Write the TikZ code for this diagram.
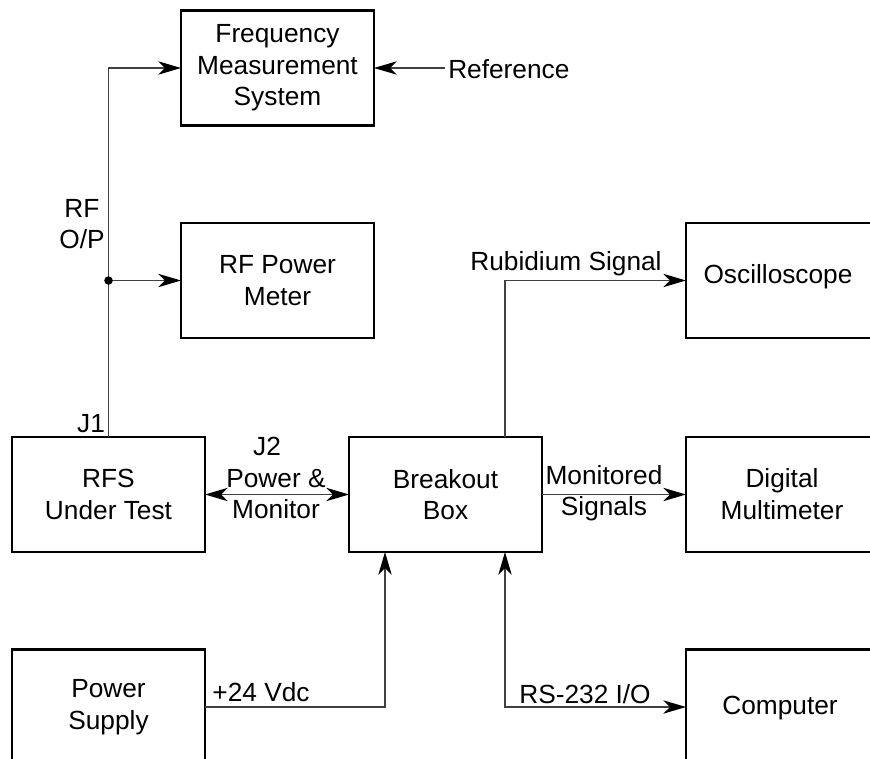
\documentclass[tikz,border=0pt]{standalone}
\usepackage{fontspec}
\setmainfont{Liberation Sans}
\usetikzlibrary{arrows.meta,calc}
\begin{document}
\begin{tikzpicture}[x=0.75pt,y=-0.75pt,
  blk/.style={draw=black,line width=1.6pt,minimum width=144.75pt,minimum height=86.25pt,inner sep=0pt,outer sep=0pt,align=center,font=\fontsize{19.7}{23.6}\selectfont},
  lbl/.style={inner sep=0pt,align=center,font=\fontsize{19.7}{23.6}\selectfont},
  conn/.style={draw=black!75,line width=0.9pt},
  tip/.tip={Stealth[length=17pt,width=10pt,inset=5pt,black]},
  arr/.style={conn,-tip},
  darr/.style={conn,tip-tip}
]
\clip (0,0) rectangle (870,759);
\fill[white] (0,0) rectangle (870,759);

% blocks
\node[blk] (fms) at (277.5,68) {Frequency\\Measurement\\System};
\node[blk] (rfpm) at (277.5,280.5) {RF Power\\Meter};
\node[blk] (rfs) at (108.5,494.5) {RFS\\Under Test};
\node[blk] (bo) at (445.5,494.5) {Breakout\\Box};
\node[blk] (osc) at (782.5,280.5) {};
\node[blk] (dmm) at (782.5,494.5) {};
\node[blk] (ps) at (108.5,707) {Power\\Supply};
\node[blk] (comp) at (782.5,707) {};

% texts of the blocks cut by the picture's edge
\node[lbl] (osct) at (778,277) {Oscilloscope};
\node[lbl] (dmmt) at (782,494) {Digital\\Multimeter};
\node[lbl] (compt) at (780,708) {Computer};

% helper coordinates
\coordinate (ref) at (445,68);
\coordinate (dot) at (rfs.north |- rfpm.west);
\path (bo.south west) ++(36,0) coordinate (boin1);
\path (bo.south west) ++(156,0) coordinate (boin2);
\path (bo.north west) ++(156,0) coordinate (boout);

% connectors
\draw[arr] (rfs.north) |- (fms.west);
\draw[arr] (dot) -- (rfpm.west);
\fill[black] (dot) circle[radius=3.2pt];
\draw[arr] (ref) -- (fms.east);
\draw[darr] (rfs.east) -- (bo.west);
\draw[arr] (boout) |- (osc.west);
\draw[arr] (bo.east) -- (dmm.west);
\draw[arr] (ps.east) -| (boin1);
\draw[darr] (boin2) |- (comp.west);

% labels
\node[lbl,anchor=west] (reft) at (448,69) {Reference};
\node[lbl] (rfop) at (82,224) {RF\\O/P};
\node[lbl] (j1) at (91,424) {J1};
\node[lbl] (j2) at (267,446) {J2};
\node[lbl] (pm) at (276,494) {Power \&\\Monitor};
\node[lbl] (rub) at (566,264) {Rubidium Signal};
\node[lbl] (mon) at (604,493) {Monitored\\Signals};
\node[lbl] (v24) at (261,692) {+24 Vdc};
\node[lbl] (rs) at (585,694) {RS-232 I/O};
\end{tikzpicture}
\end{document}
